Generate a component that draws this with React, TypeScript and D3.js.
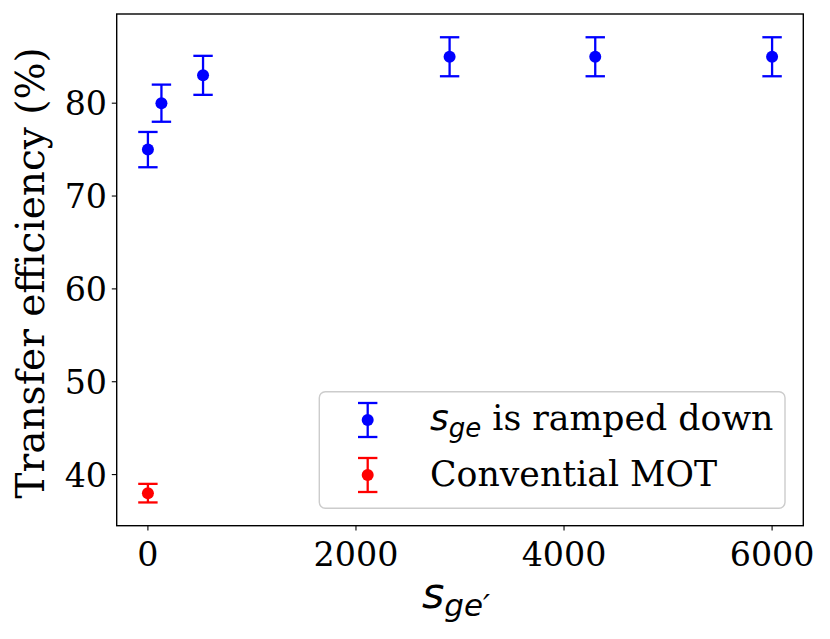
import React from "react";
import * as d3 from "d3";

const rampX = [0, 130, 530, 2900, 4300, 6000];
const rampY = [75, 80, 83, 85, 85, 85];
const rampErr = [1.9, 2.0, 2.1, 2.1, 2.1, 2.1];
const motX = [0];
const motY = [38];
const motErr = [1.0];
const xTicks = [0, 2000, 4000, 6000];
const yTicks = [40, 50, 60, 70, 80];

const W = 830, H = 639;
const L = 116.7, R = 803.3, T = 14, B = 525.7;
const SERIF = "'DejaVu Serif', serif";
const SANS = "'DejaVu Sans', sans-serif";
const FS = 33.3;
const LFS = 34.7;

function pad(lo: number, hi: number): [number, number] {
  const m = (hi - lo) * 0.05;
  return [lo - m, hi + m];
}

export default function App() {
  const allX = [...rampX, ...motX];
  const allYlo = [...rampY.map((v, i) => v - rampErr[i]), ...motY.map((v, i) => v - motErr[i])];
  const allYhi = [...rampY.map((v, i) => v + rampErr[i]), ...motY.map((v, i) => v + motErr[i])];
  const x = d3.scaleLinear().domain(pad(d3.min(allX)!, d3.max(allX)!)).range([L, R]);
  const y = d3.scaleLinear().domain(pad(d3.min(allYlo)!, d3.max(allYhi)!)).range([B, T]);

  const cap = 9.7;
  const ew = 2.3;
  const mr = 6;

  const errbar = (cx: number, cy: number, top: number, bot: number, color: string, key: string) => (
    <g key={key} stroke={color} strokeWidth={ew} fill={color}>
      <line x1={cx} x2={cx} y1={top} y2={bot} />
      <line x1={cx - cap} x2={cx + cap} y1={top} y2={top} />
      <line x1={cx - cap} x2={cx + cap} y1={bot} y2={bot} />
      <circle cx={cx} cy={cy} r={mr} stroke="none" />
    </g>
  );

  return (
    <svg width={W} height={H} style={{ position: "absolute", left: 0, top: 0 }}>
      <rect x={0} y={0} width={W} height={H} fill="white" />
      {rampX.map((v, i) =>
        errbar(x(v), y(rampY[i]), y(rampY[i] + rampErr[i]), y(rampY[i] - rampErr[i]), "#0000ff", "b" + i)
      )}
      {motX.map((v, i) =>
        errbar(x(v), y(motY[i]), y(motY[i] + motErr[i]), y(motY[i] - motErr[i]), "#ff0000", "r" + i)
      )}
      <rect x={L} y={T} width={R - L} height={B - T} fill="none" stroke="black" strokeWidth={1.4} />
      {xTicks.map((t) => (
        <g key={"xt" + t}>
          <line x1={x(t)} x2={x(t)} y1={B} y2={B + 4.9} stroke="black" strokeWidth={1.1} />
          <text x={x(t)} y={566} textAnchor="middle" fontFamily={SERIF} fontSize={FS}>
            {t}
          </text>
        </g>
      ))}
      {yTicks.map((t) => (
        <g key={"yt" + t}>
          <line x1={L - 4.9} x2={L} y1={y(t)} y2={y(t)} stroke="black" strokeWidth={1.1} />
          <text x={107} y={y(t) + 12} textAnchor="end" fontFamily={SERIF} fontSize={FS}>
            {t}
          </text>
        </g>
      ))}
      <text
        transform={`translate(44,${(T + B) / 2 + 3}) rotate(-90)`}
        textAnchor="middle"
        fontFamily={SERIF}
        fontSize={39}
      >
        Transfer efficiency (%)
      </text>
      <text x={(L + R) / 2 - 4} y={607.5} textAnchor="middle" fontFamily={SANS} fontStyle="italic">
        <tspan fontSize={43}>s</tspan>
        <tspan fontSize={31} dy={8.5}>ge′</tspan>
      </text>
      <rect x={319.3} y={391.7} width={465.7} height={116.6} rx={6} fill="white" fillOpacity={0.8} stroke="#cccccc" strokeWidth={1.4} />
      {errbar(367.7, 420, 403, 437, "#0000ff", "lb")}
      {errbar(367.7, 475, 458, 492, "#ff0000", "lr")}
      <text x={430} y={430} fontFamily={SERIF} fontSize={LFS}>
        <tspan fontFamily={SANS} fontStyle="italic" fontSize={36}>s</tspan>
        <tspan fontFamily={SANS} fontStyle="italic" fontSize={26} dy={7}>ge</tspan>
        <tspan dy={-7}> is ramped down</tspan>
      </text>
      <text x={430} y={486} fontFamily={SERIF} fontSize={LFS}>
        Convential MOT
      </text>
    </svg>
  );
}
